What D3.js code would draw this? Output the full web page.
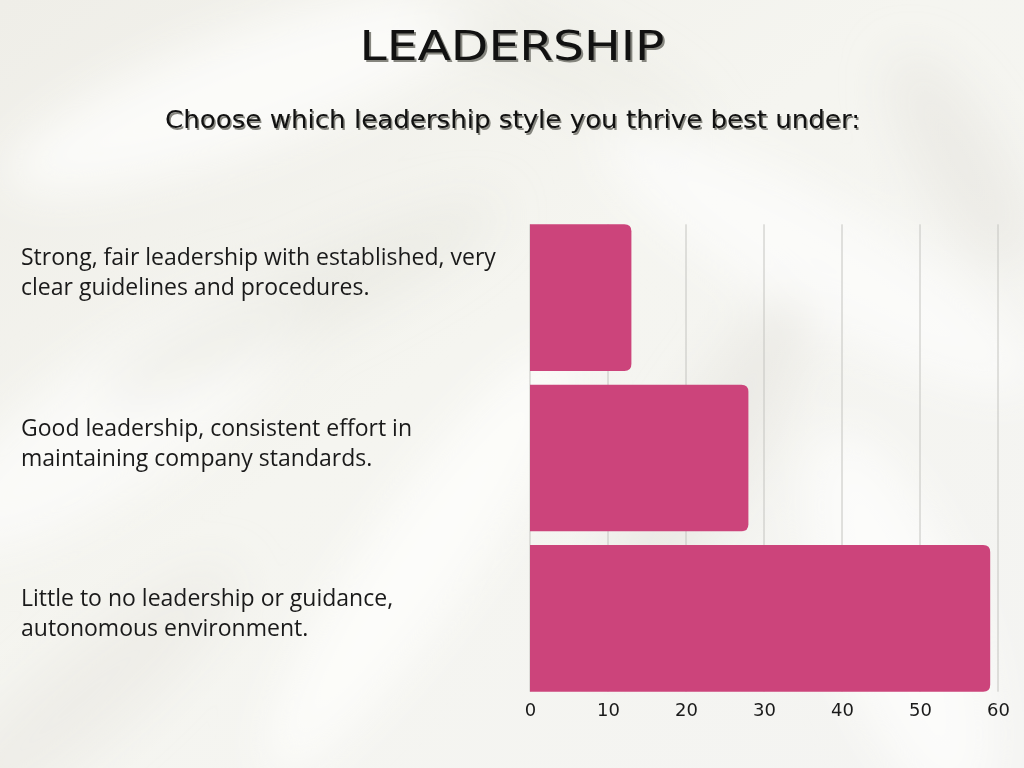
<!DOCTYPE html>
<html>
<head>
<meta charset="utf-8">
<script src="https://cdn.jsdelivr.net/npm/d3@7"></script>
<style>
  html, body { margin: 0; padding: 0; background: #f4f3ee; }
  svg { display: block; }
</style>
</head>
<body>
<div id="chart"></div>
<script>
// ---- data ----
const categories = [
  "Strong, fair leadership with established, very clear guidelines and procedures.",
  "Good leadership, consistent effort in maintaining company standards.",
  "Little to no leadership or guidance, autonomous environment."
];
const labelLines = [
  ["Strong, fair leadership with established, very", "clear guidelines and procedures."],
  ["Good leadership, consistent effort in", "maintaining company standards."],
  ["Little to no leadership or guidance,", "autonomous environment."]
];
const values = [13, 28, 59];
const tickValues = [0, 10, 20, 30, 40, 50, 60];
const title = "LEADERSHIP";
const subtitle = "Choose which leadership style you thrive best under:";

// ---- layout ----
const W = 1024, H = 768;
const svg = d3.select("#chart").append("svg").attr("width", W).attr("height", H);
const defs = svg.append("defs");

// background: soft silk-like light gradient
const bg = defs.append("linearGradient").attr("id", "bg")
  .attr("x1", "0").attr("y1", "0").attr("x2", "1").attr("y2", "1");
bg.append("stop").attr("offset", "0%").attr("stop-color", "#efeee8");
bg.append("stop").attr("offset", "45%").attr("stop-color", "#f5f5f0");
bg.append("stop").attr("offset", "100%").attr("stop-color", "#f4f4f2");
svg.append("rect").attr("width", W).attr("height", H).attr("fill", "url(#bg)");

const blur = defs.append("filter").attr("id", "blur").attr("x", "-50%").attr("y", "-50%").attr("width", "200%").attr("height", "200%");
blur.append("feGaussianBlur").attr("stdDeviation", 24);
const folds = [
  {cx: 250, cy: 90, rx: 260, ry: 60, rot: -20, c: "#fcfcf9", o: 0.9},
  {cx: 120, cy: 420, rx: 220, ry: 70, rot: -35, c: "#fbfbf8", o: 0.9},
  {cx: 420, cy: 560, rx: 260, ry: 55, rot: -55, c: "#fdfdfb", o: 0.9},
  {cx: 820, cy: 260, rx: 250, ry: 60, rot: 30, c: "#fcfcfa", o: 0.85},
  {cx: 700, cy: 470, rx: 200, ry: 45, rot: -60, c: "#e6e5df", o: 0.6},
  {cx: 300, cy: 300, rx: 220, ry: 36, rot: -25, c: "#e6e5de", o: 0.5},
  {cx: 900, cy: 620, rx: 200, ry: 70, rot: 70, c: "#fdfdfc", o: 0.85},
  {cx: 960, cy: 160, rx: 120, ry: 40, rot: 60, c: "#e5e4de", o: 0.55},
  {cx: 80, cy: 700, rx: 200, ry: 45, rot: -40, c: "#e9e8e2", o: 0.55},
  {cx: 560, cy: 60, rx: 160, ry: 35, rot: 25, c: "#e9e8e1", o: 0.4}
];
svg.append("g").attr("filter", "url(#blur)").selectAll("ellipse").data(folds).join("ellipse")
  .attr("transform", d => `translate(${d.cx},${d.cy}) rotate(${d.rot})`)
  .attr("rx", d => d.rx).attr("ry", d => d.ry)
  .attr("fill", d => d.c).attr("opacity", d => d.o);

// ---- title & subtitle with drop shadows ----
function shadowText(t, x, y, size, dx, len, family) {
  const g = svg.append("g");
  [[dx, "#86867f"], [0, "#111"]].forEach(([o, c]) => {
    g.append("text").attr("x", x + o).attr("y", y + o).attr("text-anchor", "middle")
      .attr("font-family", family).attr("font-size", size).attr("fill", c)
      .attr("textLength", len).attr("lengthAdjust", "spacingAndGlyphs").text(t);
  });
}
shadowText(title, 512, 60, 41, 2, 305, "'DejaVu Sans', sans-serif");
shadowText(subtitle, 512.5, 128, 24.5, 1.5, 695, "'DejaVu Sans', sans-serif");

// ---- scales ----
const x = d3.scaleLinear().domain([0, 60]).range([530, 998]);
const y = d3.scaleBand().domain(categories).range([217.5, 698.5])
  .paddingInner(0.085).paddingOuter(0.0425);

// gridlines
svg.append("g").selectAll("line").data(tickValues).join("line")
  .attr("x1", d => x(d)).attr("x2", d => x(d))
  .attr("y1", y(categories[0])).attr("y2", y(categories[2]) + y.bandwidth())
  .attr("stroke", "#c4c4c0").attr("stroke-width", 1);

// bars: square left, rounded right
const r = 7;
function barPath(x0, x1, y0, h) {
  const rr = Math.min(r, (x1 - x0) / 2, h / 2);
  return `M${x0},${y0}H${x1 - rr}Q${x1},${y0} ${x1},${y0 + rr}V${y0 + h - rr}Q${x1},${y0 + h} ${x1 - rr},${y0 + h}H${x0}Z`;
}
svg.append("g").selectAll("path").data(values).join("path")
  .attr("d", (v, i) => barPath(x(0), x(v), y(categories[i]), y.bandwidth()))
  .attr("fill", "#cc447b");

// x axis tick labels
const xAxis = d3.axisBottom(x).tickValues(tickValues).tickSize(0).tickPadding(0);
const ax = svg.append("g").attr("transform", "translate(0,702)").call(xAxis);
ax.select(".domain").remove();
ax.selectAll("text").attr("font-family", "'DejaVu Sans', sans-serif")
  .attr("font-size", 18).attr("fill", "#1a1a1a").attr("dy", "0.78em");

// category labels
const ly = d3.scalePoint().domain(categories).range([265, 606]);
const lg = svg.append("g");
categories.forEach((c, i) => {
  const t = lg.append("text").attr("x", 21).attr("y", ly(c))
    .attr("font-family", "'Open Sans', sans-serif").attr("font-size", 23).attr("fill", "#1a1a1a");
  labelLines[i].forEach((ln, j) => {
    t.append("tspan").attr("x", 21).attr("dy", j === 0 ? 0 : 30).text(ln);
  });
});
</script>
</body>
</html>
